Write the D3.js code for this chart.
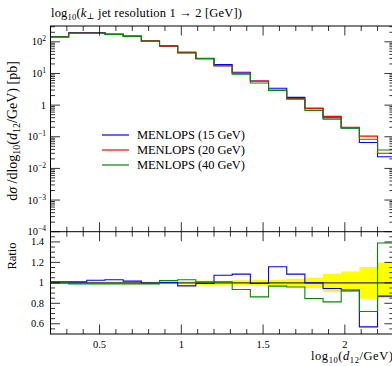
<!DOCTYPE html>
<html><head><meta charset="utf-8">
<script src="https://cdn.jsdelivr.net/npm/d3@7"></script>
<style>
body{margin:0;background:#fff;}
svg{display:block;}
text{font-family:"Liberation Serif","DejaVu Serif",serif;fill:#000;}
</style></head>
<body>
<svg id="c" width="392" height="366"></svg>
<script>
// ---- data ----
const binStart = 0.2;
const binWidth = 1/9;
const binEdges = d3.range(20).map(i => binStart + i*binWidth);
const seriesNames = ["MENLOPS (15 GeV)", "MENLOPS (20 GeV)", "MENLOPS (40 GeV)"];
const seriesColors = ["#0000ff", "#ff0000", "#008a00"];
const blueVals  = [145, 195, 195, 177, 152, 106, 73, 44.6, 29.3, 19.0, 10.9, 5.8, 3.4, 1.75, 0.79, 0.40, 0.19, 0.066, 0.0234];
const redVals   = [143, 190, 190, 172, 150, 107, 73, 46, 29.5, 17.3, 10.2, 5.8, 3.0, 1.62, 0.79, 0.44, 0.20, 0.105, 0.030];
const greenVals = [143, 188, 188, 170, 149, 106, 75, 47.5, 30, 17.5, 9.5, 5.0, 2.9, 1.55, 0.68, 0.36, 0.185, 0.083, 0.038];
const blueRatio  = [1.01, 1.01, 1.026, 1.03, 1.017, 0.995, 1.004, 0.97, 0.994, 1.075, 1.085, 0.994, 1.157, 1.085, 1.0, 0.945, 0.93, 0.57, 0.87];
const greenRatio = [1.0, 0.99, 0.99, 0.99, 0.99, 0.99, 1.022, 1.03, 1.01, 1.01, 0.935, 0.863, 0.968, 0.96, 0.847, 0.814, 0.92, 0.72, 1.39];
const refRatio   = [1,1,1,1,1,1,1,1,1,1,1,1,1,1,1,1,1,1,1];
const bandLo = [0.99,0.99,0.99,0.99,0.99,0.988,0.988,0.985,0.98,0.98,0.975,0.97,0.97,0.96,0.95,0.91,0.91,0.845,0.85];
const bandHi = [1.01,1.01,1.01,1.01,1.01,1.012,1.012,1.015,1.02,1.02,1.025,1.03,1.03,1.04,1.05,1.09,1.11,1.155,1.2];
const xMajorTicks = [0.5, 1, 1.5, 2];
const xTickLabels = ["0.5", "1", "1.5", "2"];
const yMainExps = [2, 1, 0, -1, -2, -3, -4];
const ratioTicks = [0.6, 0.8, 1, 1.2, 1.4];
const ratioTickLabels = ["0.6", "0.8", "1", "1.2", "1.4"];

// ---- layout ----
const L = 50.5, R = 393.9, T = 26, MB = 231.7, RB = 334;
const svg = d3.select("#c");
const x = d3.scaleLinear().domain([0.2, 2.3]).range([L, R]);
const y = d3.scaleLog().domain([1e-4, Math.pow(10, 2.5)]).range([MB, T]);
const yr = d3.scaleLinear().domain([0.5, 1.5]).range([RB, MB]);

const defs = svg.append("defs");
defs.append("clipPath").attr("id","cm").append("rect").attr("x",L).attr("y",T).attr("width",R-L).attr("height",MB-T);
defs.append("clipPath").attr("id","cr").append("rect").attr("x",L).attr("y",MB).attr("width",R-L).attr("height",RB-MB);

function stepPts(vals){ const p = vals.map((v,i)=>[binEdges[i], v]); p.push([binEdges[vals.length], vals[vals.length-1]]); return p; }

// ratio band
const gR = svg.append("g").attr("clip-path","url(#cr)");
gR.append("path")
  .attr("d", d3.area().curve(d3.curveStepAfter).x(d=>x(d[0])).y0(d=>yr(d[1])).y1(d=>yr(d[2]))(
     bandLo.map((v,i)=>[binEdges[i], v, bandHi[i]]).concat([[binEdges[bandLo.length], bandLo[bandLo.length-1], bandHi[bandHi.length-1]]])))
  .attr("fill","#ffff00");
const rl = d3.line().curve(d3.curveStepAfter).x(d=>x(d[0])).y(d=>yr(d[1]));
gR.append("path").attr("d", rl(stepPts(refRatio))).attr("fill","none").attr("stroke","#333").attr("stroke-width",1.4);
[[blueRatio, seriesColors[0]], [greenRatio, seriesColors[2]]].forEach(([v,c])=>{
  gR.append("path").attr("d", rl(stepPts(v))).attr("fill","none").attr("stroke",c).attr("stroke-width",1.1);
});

// main hist
const gM = svg.append("g").attr("clip-path","url(#cm)");
const ml = d3.line().curve(d3.curveStepAfter).x(d=>x(d[0])).y(d=>y(d[1]));
[blueVals, redVals, greenVals].forEach((v,i)=>{
  gM.append("path").attr("d", ml(stepPts(v))).attr("fill","none").attr("stroke",seriesColors[i]).attr("stroke-width",1.1);
});

// frames
svg.append("rect").attr("x",L).attr("y",T).attr("width",R-L).attr("height",RB-T).attr("fill","none").attr("stroke","#000").attr("stroke-width",1);
svg.append("line").attr("x1",L).attr("x2",R).attr("y1",MB).attr("y2",MB).attr("stroke","#000").attr("stroke-width",1);

// ticks helper
const tk = svg.append("g").attr("stroke","#000").attr("stroke-width",0.8);
function vt(xp, y0, len){ tk.append("line").attr("x1",xp).attr("x2",xp).attr("y1",y0).attr("y2",y0+len); }
function ht(yp, x0, len){ tk.append("line").attr("x1",x0).attr("x2",x0+len).attr("y1",yp).attr("y2",yp); }

// x ticks
const xMinor = d3.range(3, 23).map(i=>i/10).filter(v=>!xMajorTicks.some(m=>Math.abs(m-v)<1e-6));
[[T,1],[MB,-1],[MB,1],[RB,-1]].forEach(([yy,dir])=>{
  xMajorTicks.forEach(v=>vt(x(v), yy, 9.5*dir));
  xMinor.forEach(v=>vt(x(v), yy, 5*dir));
});
// main y ticks
yMainExps.forEach(e=>{ ht(y(Math.pow(10,e)), L, 9.5); ht(y(Math.pow(10,e)), R, -9.5); });
d3.range(-4, 3).forEach(e=>{ d3.range(2,10).forEach(m=>{ const v=m*Math.pow(10,e); if(v<Math.pow(10,2.5)){ ht(y(v),L,4.5); ht(y(v),R,-4.5);} }); });
// ratio ticks
ratioTicks.forEach(v=>{ ht(yr(v), L, 9.5); ht(yr(v), R, -9.5); });
d3.range(11, 30).map(i=>i*0.05).filter(v=>!ratioTicks.some(m=>Math.abs(m-v)<1e-6) && v<1.5).forEach(v=>{ ht(yr(v),L,4.5); ht(yr(v),R,-4.5); });

// labels
const fs = 10.5;
yMainExps.forEach(e=>{
  const t = svg.append("text").attr("x",46).attr("y",y(Math.pow(10,e))+3.5).attr("text-anchor","end").attr("font-size",fs);
  if(e===0){ t.text("1"); }
  else { t.append("tspan").text("10"); t.append("tspan").attr("dy",-4).attr("font-size",7.5).text(e<0?"\u2212"+(-e):String(e)); }
});
ratioTicks.forEach((v,i)=>{
  svg.append("text").attr("x",44).attr("y",yr(v)+3.5).attr("text-anchor","end").attr("font-size",fs).text(ratioTickLabels[i]);
});
xMajorTicks.forEach((v,i)=>{
  svg.append("text").attr("x",x(v)).attr("y",348).attr("text-anchor","middle").attr("font-size",fs).text(xTickLabels[i]);
});

// title
const tt = svg.append("text").attr("x",51).attr("y",16.5).attr("font-size",12.5)
  .attr("textLength",191).attr("lengthAdjust","spacing");
tt.append("tspan").text("log");
tt.append("tspan").attr("dy",3).attr("font-size",8.5).text("10");
tt.append("tspan").attr("dy",-3).text("(");
tt.append("tspan").attr("font-style","italic").text("k");
tt.append("tspan").attr("dy",2).attr("font-size",8.5).text("\u22a5");
tt.append("tspan").attr("dy",-2).text(" jet resolution 1 \u2192 2 [GeV])");

// x label
const xl = svg.append("text").attr("x",311).attr("y",360).attr("font-size",12.5)
  .attr("textLength",82).attr("lengthAdjust","spacing");
xl.append("tspan").text("log");
xl.append("tspan").attr("dy",3).attr("font-size",8.5).text("10");
xl.append("tspan").attr("dy",-3).text("(");
xl.append("tspan").attr("font-style","italic").text("d");
xl.append("tspan").attr("dy",3).attr("font-size",8.5).text("12");
xl.append("tspan").attr("dy",-3).text("/GeV)");

// y label
const yl = svg.append("text").attr("transform","translate(17,131) rotate(-90)").attr("text-anchor","middle").attr("font-size",14);
yl.append("tspan").text("d");
yl.append("tspan").attr("font-style","italic").text("\u03c3");
yl.append("tspan").text(" /dlog");
yl.append("tspan").attr("dy",3).attr("font-size",10).text("10");
yl.append("tspan").attr("dy",-3).text("(");
yl.append("tspan").attr("font-style","italic").text("d");
yl.append("tspan").attr("dy",3).attr("font-size",10).text("12");
yl.append("tspan").attr("dy",-3).text("/GeV) [pb]");

svg.append("text").attr("transform","translate(16,256) rotate(-90)").attr("text-anchor","middle").attr("font-size",12.5).text("Ratio");

// legend
const legY = [135, 150, 165];
seriesNames.forEach((n,i)=>{
  svg.append("line").attr("x1",102).attr("x2",129).attr("y1",legY[i]).attr("y2",legY[i]).attr("stroke",seriesColors[i]).attr("stroke-width",1.2);
  svg.append("text").attr("x",137).attr("y",legY[i]+4).attr("font-size",12.5).attr("textLength",108).attr("lengthAdjust","spacing").text(n);
});
</script>
</body></html>
